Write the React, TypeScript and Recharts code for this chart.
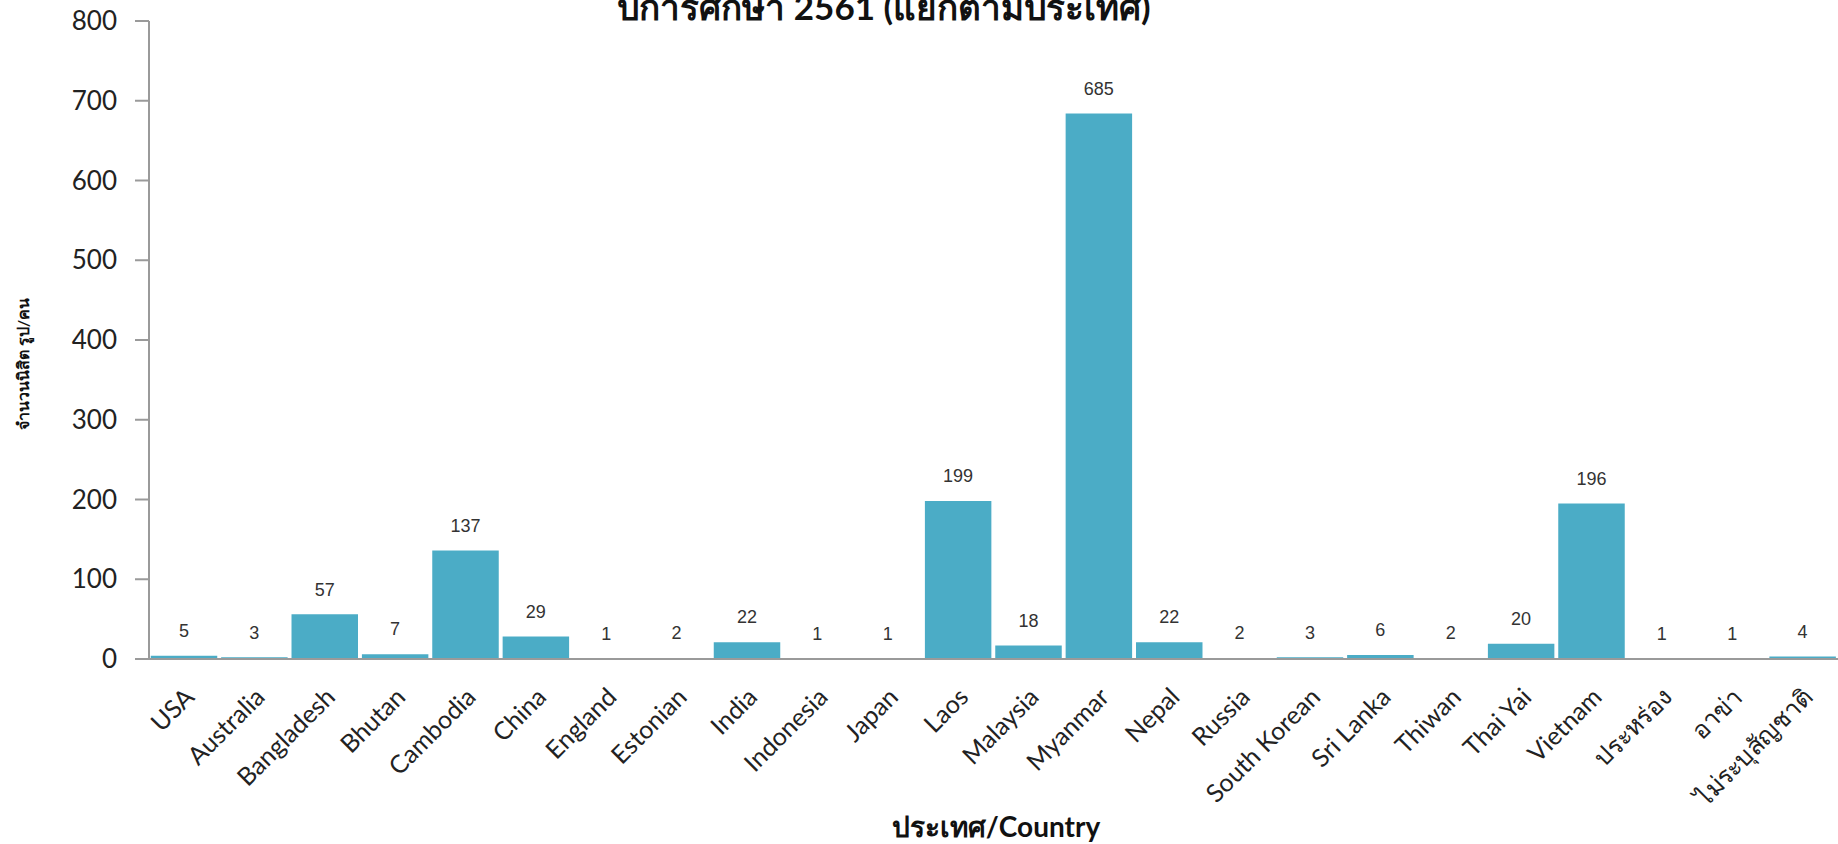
import React from 'react';
import { BarChart, Bar, XAxis, YAxis, LabelList, Label } from 'recharts';

// ข้อมูลนิสิตต่างชาติ ปีการศึกษา 2561
const countries = [
  'USA', 'Australia', 'Bangladesh', 'Bhutan', 'Cambodia', 'China', 'England',
  'Estonian', 'India', 'Indonesia', 'Japan', 'Laos', 'Malaysia', 'Myanmar',
  'Nepal', 'Russia', 'South Korean', 'Sri Lanka', 'Thiwan', 'Thai Yai',
  'Vietnam', 'ประหร่อง', 'อาข่า', 'ไม่ระบุสัญชาติ',
];
const students = [
  5, 3, 57, 7, 137, 29, 1, 2, 22, 1, 1, 199, 18, 685, 22, 2, 3, 6, 2, 20, 196, 1, 1, 4,
];
const yTicks = [0, 100, 200, 300, 400, 500, 600, 700, 800];

const data = countries.map((name, i) => ({ name, value: students[i] }));

const BAR_COLOR = '#4BACC6';
const AXIS_COLOR = '#9a9a9a';
const FONT = 'Lato, "Noto Sans", sans-serif';

const CountryTick = (props: any) => {
  const { x, y, payload } = props;
  return (
    <g transform={`translate(${x + 6},${y + 26})`}>
      <text
        transform="rotate(-45)"
        textAnchor="end"
        dy={8}
        fontSize={25}
        fontFamily={FONT}
        fill="#222"
      >
        {payload.value}
      </text>
    </g>
  );
};

const YTitle = () => {
  const cy = 364;
  const cx = 22;
  return (
    <text
      x={cx}
      y={cy}
      transform={`rotate(-90, ${cx}, ${cy})`}
      textAnchor="middle"
      dominantBaseline="central"
      fontSize={16}
      fontWeight="bold"
      fontFamily={FONT}
      fill="#111"
    >
      จำนวนนิสิต รูป/คน
    </text>
  );
};

const XTitle = () => (
  <text
    x={996}
    y={826}
    textAnchor="middle"
    dominantBaseline="central"
    fontSize={28}
    fontWeight="bold"
    fontFamily={FONT}
    fill="#111"
  >
    ประเทศ/Country
  </text>
);

export default function App() {
  return (
    <div style={{ position: 'absolute', left: 0, top: 0, width: 1838, height: 844, overflow: 'hidden', background: '#fff' }}>
      <div
        style={{
          position: 'absolute',
          left: 0,
          width: 1768,
          top: -20,
          textAlign: 'center',
          fontFamily: FONT,
          fontWeight: 'bold',
          fontSize: 35,
          color: '#111',
          whiteSpace: 'nowrap',
        }}
      >
        ปีการศึกษา 2561 (แยกตามประเทศ)
      </div>
      <BarChart
        width={1838}
        height={844}
        data={data}
        margin={{ top: 21, right: 0, left: 0, bottom: 0 }}
        barCategoryGap={1}
      >
        <XAxis
          dataKey="name"
          interval={0}
          height={185}
          tick={<CountryTick />}
          tickLine={false}
          axisLine={{ stroke: AXIS_COLOR, strokeWidth: 2 }}
        >
          <Label content={<XTitle />} />
        </XAxis>
        <YAxis
          width={149}
          domain={[0, 800]}
          ticks={yTicks}
          tickSize={14}
          tickMargin={18}
          tick={{ fontSize: 26, fontFamily: FONT, fill: '#222' }}
          tickLine={{ stroke: AXIS_COLOR, strokeWidth: 2 }}
          axisLine={{ stroke: AXIS_COLOR, strokeWidth: 2 }}
        >
          <Label content={<YTitle />} />
        </YAxis>
        <Bar dataKey="value" fill={BAR_COLOR} stroke="#ffffff" strokeWidth={1.5} isAnimationActive={false}>
          <LabelList
            dataKey="value"
            position="top"
            offset={18}
            fontSize={18}
            fontFamily='"Liberation Sans Narrow", "Liberation Sans", sans-serif'
            fill="#333"
          />
        </Bar>
      </BarChart>
    </div>
  );
}
